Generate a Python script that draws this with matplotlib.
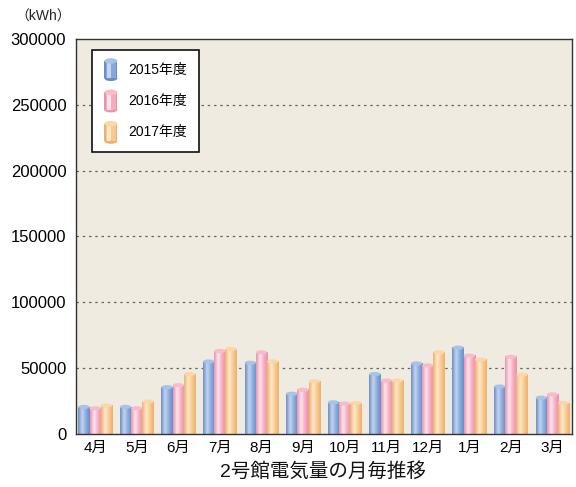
import numpy as np
import matplotlib
matplotlib.use('Agg')
import matplotlib.pyplot as plt
from matplotlib.colors import LinearSegmentedColormap
from matplotlib.patches import Ellipse, Rectangle
from matplotlib.legend_handler import HandlerBase

plt.rcParams['font.family'] = ['Liberation Sans', 'Noto Sans CJK JP', 'DejaVu Sans']

months = ['4月', '5月', '6月', '7月', '8月', '9月', '10月', '11月', '12月', '1月', '2月', '3月']
fy2015 = [20500, 20500, 35500, 55000, 54000, 30500, 24000, 45500, 53500, 65500, 36000, 27500]
fy2016 = [19500, 19500, 37000, 63000, 62000, 33500, 23000, 40500, 52000, 59500, 58500, 30000]
fy2017 = [21500, 24500, 45500, 64500, 55000, 40000, 23500, 40500, 62000, 56500, 45000, 23500]
series_labels = ['2015年度', '2016年度', '2017年度']

# edge, highlight, body, cap colours for each cylinder series
palettes = [
    ('#6a8dc8', '#c3d6ee', '#86a8da', '#a9c2e6'),
    ('#ea92aa', '#ffe6ee', '#f5aabd', '#f7bccb'),
    ('#eeb06c', '#ffe9cc', '#f8c88e', '#fad6a8'),
]


def cylinder_cmap(edge, light, body):
    return LinearSegmentedColormap.from_list(
        'cyl', [(0.0, edge), (0.35, light), (0.7, body), (1.0, edge)])


class CylinderHandler(HandlerBase):
    def __init__(self, pal):
        super().__init__()
        self.pal = pal

    def create_artists(self, legend, orig_handle, xdescent, ydescent,
                       width, height, fontsize, trans):
        edge, light, body, cap = self.pal
        w = width * 0.85
        x0 = -xdescent
        y0 = -ydescent - height * 0.5
        h = height * 1.8
        eh = height * 0.55
        arts = [
            Ellipse((x0 + w / 2, y0), w, eh, facecolor=edge, edgecolor='none',
                    transform=trans),
            Rectangle((x0, y0), w, h, facecolor=body, edgecolor='none', transform=trans),
            Rectangle((x0, y0), w * 0.12, h, facecolor=edge, edgecolor='none',
                      transform=trans),
            Rectangle((x0 + w * 0.2, y0), w * 0.3, h, facecolor=light, edgecolor='none',
                      transform=trans),
            Rectangle((x0 + w * 0.88, y0), w * 0.12, h, facecolor=edge, edgecolor='none',
                      transform=trans),
            Ellipse((x0 + w / 2, y0 + h), w, eh, facecolor=cap,
                    edgecolor='none', transform=trans),
        ]
        return arts


fig = plt.figure(figsize=(5.76, 4.87), dpi=100)
ax = fig.add_axes([0.132, 0.109, 0.861, 0.811])
ax.set_facecolor('#efebe1')

x = np.arange(len(months))
bar_w = 0.27
cap_h = 3200
grad = np.linspace(0, 1, 64).reshape(1, -1)

for k, vals in enumerate([fy2015, fy2016, fy2017]):
    edge, light, body, cap = palettes[k]
    cmap = cylinder_cmap(edge, light, body)
    for xi, v in zip(x, vals):
        left = xi + (k - 1) * bar_w - bar_w / 2
        ax.imshow(grad, cmap=cmap, extent=[left, left + bar_w, 0, v],
                  aspect='auto', zorder=3, interpolation='bicubic')
        ax.add_patch(Ellipse((left + bar_w / 2, v), bar_w, cap_h,
                             facecolor=cap, edgecolor='none', zorder=4))

ax.set_xlim(-0.46, 11.47)
ax.set_ylim(0, 300000)
ax.set_xticks(x)
ax.set_xticklabels(months, fontsize=11)
ax.set_yticks(np.arange(0, 300001, 50000))
ax.tick_params(axis='y', labelsize=12, length=0, pad=7)
ax.tick_params(axis='x', length=0, pad=5)

for gy in range(50000, 300000, 50000):
    ax.axhline(gy, color='#666666', linestyle=(0, (2, 3)), linewidth=0.9, zorder=1)

for sp in ax.spines.values():
    sp.set_color('#333333')
    sp.set_linewidth(1.0)
    sp.set_zorder(5)

handles = [Rectangle((0, 0), 1, 1) for _ in series_labels]
leg = ax.legend(handles, series_labels, loc='upper left',
                bbox_to_anchor=(0.032, 0.972), borderaxespad=0,
                handler_map={h: CylinderHandler(p) for h, p in zip(handles, palettes)},
                fontsize=10, frameon=True, fancybox=False, labelspacing=1.25,
                handlelength=1.1, handletextpad=0.6, borderpad=0.9)
leg.get_frame().set_edgecolor('#111111')
leg.get_frame().set_linewidth(1.2)
leg.get_frame().set_facecolor('white')
leg.get_frame().set_alpha(1)

fig.text(0.075, 0.966, '（kWh）', fontsize=10, ha='center', va='center', color='#222222')
fig.text(0.561, 0.032, '2号館電気量の月毎推移', fontsize=14, ha='center', va='center',
         color='#111111')

fig.savefig('out.png', dpi=100)
